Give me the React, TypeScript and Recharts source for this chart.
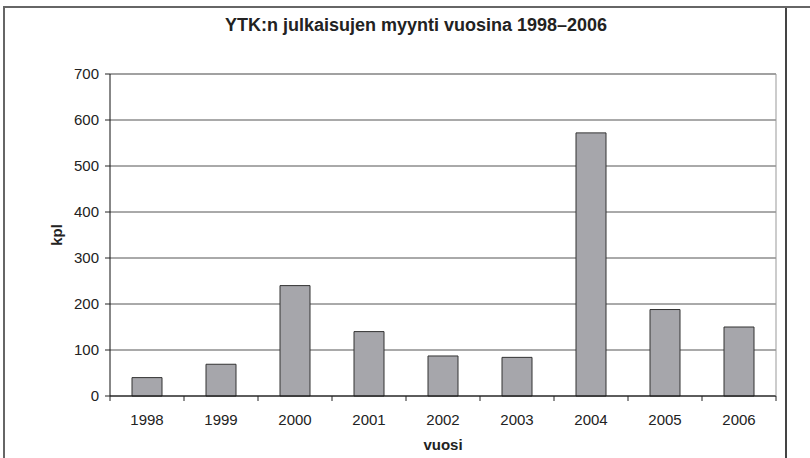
import React from "react";
import {
  Bar,
  BarChart,
  CartesianGrid,
  Label,
  ReferenceLine,
  XAxis,
  YAxis,
} from "recharts";

const years = ["1998", "1999", "2000", "2001", "2002", "2003", "2004", "2005", "2006"];
const sales = [40, 69, 240, 140, 87, 84, 572, 188, 150];
const yTicks = [0, 100, 200, 300, 400, 500, 600, 700];

const title = "YTK:n julkaisujen myynti vuosina 1998–2006";

const data = years.map((year, i) => ({ year, kpl: sales[i] }));

const font = "'Liberation Sans', Arial, sans-serif";
const X_TICK_SIZE = 5;
const X_TICK_MARGIN = 13;

// year label + Excel-style tick marks on the category edges
function YearTick(props: any) {
  const { x, y, payload, index, visibleTicksCount } = props;
  const half = payload.offset ?? 0;
  const axisY = y - X_TICK_SIZE - X_TICK_MARGIN;
  const last = index === visibleTicksCount - 1;
  return (
    <g>
      <line x1={x - half} x2={x - half} y1={axisY} y2={axisY + 5} stroke="#222" />
      {last && (
        <line x1={x + half} x2={x + half} y1={axisY} y2={axisY + 5} stroke="#222" />
      )}
      <text
        x={x}
        y={y}
        dy="0.71em"
        textAnchor="middle"
        fill="#222"
        fontSize={15}
        fontFamily={font}
      >
        {payload.value}
      </text>
    </g>
  );
}

export default function App() {
  return (
    <div
      style={{
        position: "absolute",
        left: 0,
        top: 0,
        width: 810,
        height: 458,
        background: "#fff",
        fontFamily: font,
      }}
    >
      {/* outer frame */}
      <div
        style={{
          position: "absolute",
          left: 3,
          top: 6,
          width: 780,
          height: 460,
          borderLeft: "2px solid #666",
          borderTop: "2px solid #666",
          borderRight: "2px solid #444",
        }}
      />
      <div
        style={{
          position: "absolute",
          left: 785,
          top: 6,
          width: 25,
          borderTop: "2px solid #666",
        }}
      />
      <div
        style={{
          position: "absolute",
          left: 5,
          width: 780,
          top: 15,
          textAlign: "center",
          fontWeight: "bold",
          fontSize: 18,
          color: "#222",
          paddingLeft: 42,
          boxSizing: "border-box",
        }}
      >
        {title}
      </div>
      <BarChart
        width={810}
        height={458}
        data={data}
        margin={{ top: 74, right: 33, left: 50, bottom: 6 }}
        style={{ position: "absolute", left: 0, top: 0 }}
      >
        <CartesianGrid vertical={false} stroke="#555" strokeWidth={1} />
        <ReferenceLine y={700} stroke="#999" />
        <XAxis
          dataKey="year"
          height={56}
          tickLine={false}
          tickSize={X_TICK_SIZE}
          tickMargin={X_TICK_MARGIN}
          axisLine={{ stroke: "#111" }}
          tick={<YearTick />}
          interval={0}
        >
          <Label
            value="vuosi"
            position="insideBottom"
            offset={2}
            style={{ fill: "#222", fontWeight: "bold", fontSize: 15, fontFamily: font }}
          />
        </XAxis>
        <YAxis
          width={60}
          domain={[0, 700]}
          ticks={yTicks}
          interval={0}
          tickSize={5}
          tickMargin={6}
          tickLine={{ stroke: "#222" }}
          axisLine={{ stroke: "#111" }}
          tick={{ fill: "#222", fontSize: 15, fontFamily: font }}
        >
          <Label
            value="kpl"
            angle={-90}
            position="insideLeft"
            offset={7}
            style={{ textAnchor: "middle", fill: "#222", fontWeight: "bold", fontSize: 15, fontFamily: font }}
          />
        </YAxis>
        <YAxis
          yAxisId="right"
          orientation="right"
          width={1}
          domain={[0, 700]}
          tick={false}
          tickLine={false}
          axisLine={{ stroke: "#999" }}
        />
        <Bar
          dataKey="kpl"
          barSize={30}
          fill="#a6a6ab"
          stroke="#333"
          strokeWidth={1}
          isAnimationActive={false}
        />
      </BarChart>
    </div>
  );
}
